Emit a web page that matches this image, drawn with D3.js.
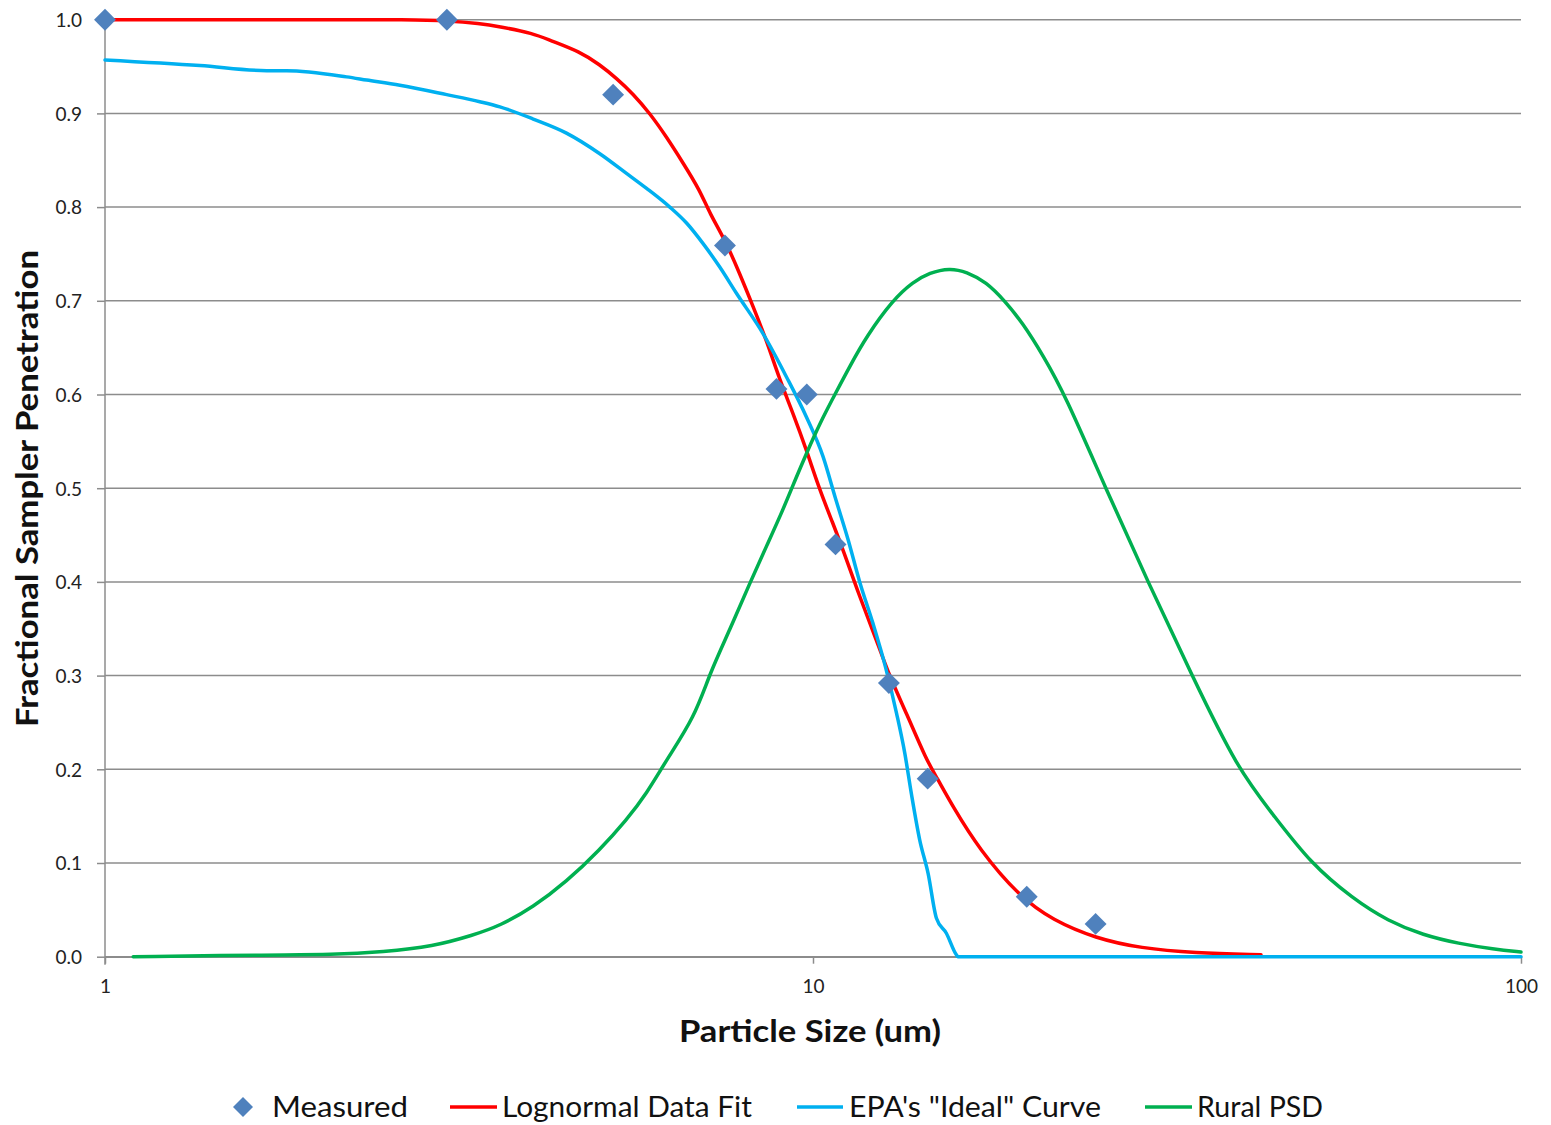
<!DOCTYPE html>
<html><head><meta charset="utf-8">
<script src="https://cdn.jsdelivr.net/npm/d3@7"></script>
<style>body{margin:0;background:#fff} svg{display:block;font-family:Lato,"Open Sans",sans-serif}</style>
</head><body><svg id="c" width="1551" height="1125"></svg>
<script>
// ---- data ----
const xTicks = [1, 10, 100];
const yTicks = [0, 0.1, 0.2, 0.3, 0.4, 0.5, 0.6, 0.7, 0.8, 0.9, 1.0];
const xTitle = "Particle Size (um)";
const yTitle = "Fractional Sampler Penetration";
const seriesNames = ["Measured", "Lognormal Data Fit", "EPA's \"Ideal\" Curve", "Rural PSD"];

const measuredX = [1, 3.04, 5.22, 7.51, 8.88, 9.80, 10.76, 12.80, 14.52, 20.04, 25.07];
const measuredY = [1.0, 1.0, 0.920, 0.759, 0.606, 0.600, 0.440, 0.292, 0.190, 0.064, 0.035];

const fitX = [1, 1.885, 2.741, 3.04, 3.383, 3.612, 4.025, 4.249, 4.684, 4.999, 5.278, 5.569, 5.883, 6.209, 6.555, 6.921, 7.149, 7.512, 7.88, 8.229, 8.595, 8.975, 9.372, 9.788, 10.22, 10.67, 11.03, 11.64, 12.29, 12.83, 13.55, 14.46, 14.94, 15.76, 17.19, 19.58, 21.80, 25.07, 29.05, 34.51, 42.93];
const fitY = [1, 1, 1, 0.999, 0.996, 0.9925, 0.9855, 0.978, 0.966, 0.952, 0.9375, 0.921, 0.900, 0.875, 0.847, 0.818, 0.793, 0.765, 0.729, 0.694, 0.658, 0.6155, 0.580, 0.541, 0.498, 0.4625, 0.434, 0.384, 0.338, 0.299, 0.260, 0.210, 0.192, 0.160, 0.114, 0.064, 0.039, 0.0196, 0.009, 0.004, 0.002];

const epaX = [1, 1.362, 1.692, 1.805, 2.194, 2.342, 2.609, 3.038, 3.383, 3.612, 4.025, 4.485, 4.999, 5.452, 5.820, 6.277, 6.628, 6.995, 7.384, 7.796, 8.50, 9.17, 9.788, 10.33, 10.76, 11.21, 11.64, 12.15, 12.67, 13.12, 13.48, 13.77, 14.15, 14.54, 14.94, 15.43, 15.94, 16.02, 100];
const epaY = [0.957, 0.951, 0.9456, 0.9456, 0.939, 0.9356, 0.930, 0.920, 0.9125, 0.907, 0.894, 0.879, 0.857, 0.836, 0.820, 0.800, 0.783, 0.761, 0.736, 0.708, 0.665, 0.619, 0.576, 0.534, 0.489, 0.445, 0.400, 0.356, 0.308, 0.260, 0.217, 0.174, 0.1245, 0.089, 0.041, 0.025, 0.002, 0, 0];

const psdX = [1.096, 1.692, 2.101, 2.471, 2.908, 3.311, 3.612, 4.025, 4.485, 4.999, 5.452, 5.820, 6.209, 6.807, 7.149, 7.630, 8.140, 8.595, 9.072, 9.474, 9.788, 10.22, 10.79, 11.27, 11.90, 12.97, 13.84, 14.61, 15.60, 16.47, 17.57, 18.65, 19.79, 21.12, 22.69, 25.90, 29.72, 34.31, 39.78, 44.94, 50.41, 57.84, 64.90, 72.80, 81.65, 91.55, 100];
const psdY = [0.0, 0.002, 0.002, 0.005, 0.011, 0.023, 0.033, 0.053, 0.080, 0.114, 0.146, 0.174, 0.210, 0.256, 0.3025, 0.349, 0.3985, 0.438, 0.477, 0.512, 0.537, 0.569, 0.603, 0.630, 0.662, 0.701, 0.720, 0.730, 0.735, 0.731, 0.720, 0.700, 0.676, 0.642, 0.600, 0.500, 0.400, 0.300, 0.200, 0.149, 0.100, 0.062, 0.038, 0.023, 0.014, 0.008, 0.005];

const colors = {measured: "#4f81bd", fit: "#ff0000", epa: "#00b0f0", psd: "#00b050"};

// ---- chart ----
const svg = d3.select("#c");
const L = 105, R = 1521, T = 19.7, B = 956.7;
const x = d3.scaleLog().domain([1, 100]).range([L, R]);
const y = d3.scaleLinear().domain([0, 1]).range([B, T]);
const gridColor = "#8c8c8c";

// gridlines
svg.append("g").selectAll("line").data(yTicks).join("line")
  .attr("x1", L).attr("x2", R).attr("y1", d => y(d)).attr("y2", d => y(d))
  .attr("stroke", gridColor).attr("stroke-width", 1.5);

// y axis
const yAxis = svg.append("g").attr("transform", `translate(${L},0)`)
  .call(d3.axisLeft(y).tickValues(yTicks).tickFormat(d3.format(".1f")).tickSize(8).tickSizeOuter(0).tickPadding(15));
yAxis.select(".domain").attr("stroke", gridColor).attr("stroke-width", 1.5).attr("d", `M0,${T}V${B + 8}`);
yAxis.selectAll(".tick line").attr("stroke", gridColor).attr("stroke-width", 1.5);
yAxis.selectAll("text").attr("font-family", "Lato").attr("font-size", 19).attr("fill", "#222").attr("dy", "0.36em");

// x axis
const xAxis = svg.append("g").attr("transform", `translate(0,${B})`)
  .call(d3.axisBottom(x).tickValues(xTicks).tickFormat(d3.format("d")).tickSize(7).tickSizeOuter(0).tickPadding(16));
xAxis.select(".domain").attr("stroke", gridColor).attr("stroke-width", 1.5);
xAxis.selectAll(".tick line").attr("stroke", gridColor).attr("stroke-width", 1.5);
xAxis.selectAll("text").attr("font-family", "Lato").attr("font-size", 19).attr("fill", "#222");

// lines
function drawLine(xs, ys, color, curve) {
  const pts = xs.map((v, i) => [v, ys[i]]);
  svg.append("path").datum(pts)
    .attr("fill", "none").attr("stroke", color).attr("stroke-width", 3.5)
    .attr("stroke-linejoin", "round").attr("stroke-linecap", "round")
    .attr("d", d3.line().x(d => x(d[0])).y(d => y(d[1])).curve(curve));
}
drawLine(fitX, fitY, colors.fit, d3.curveBasis);
drawLine(epaX, epaY, colors.epa, d3.curveMonotoneX);
drawLine(psdX, psdY, colors.psd, d3.curveBasis);

// measured diamonds
const diamond = d3.symbol().type(d3.symbolSquare).size(240);
svg.append("g").selectAll("path").data(measuredX.map((v, i) => [v, measuredY[i]])).join("path")
  .attr("d", diamond)
  .attr("transform", d => `translate(${x(d[0])},${y(d[1])}) rotate(45)`)
  .attr("fill", colors.measured);

// axis titles
svg.append("text").attr("x", 810).attr("y", 1042)
  .attr("text-anchor", "middle").attr("font-family", "Lato").attr("font-weight", "bold")
  .attr("font-size", 30).attr("fill", "#111").attr("textLength", 262).attr("lengthAdjust", "spacingAndGlyphs")
  .text(xTitle);
svg.append("text").attr("transform", "translate(38,488.5) rotate(-90)")
  .attr("text-anchor", "middle").attr("font-family", "Lato").attr("font-weight", "bold")
  .attr("font-size", 31).attr("fill", "#111").attr("textLength", 477).attr("lengthAdjust", "spacingAndGlyphs")
  .text(yTitle);

// legend
const ly = 1107;
const leg = svg.append("g").attr("font-family", "Lato").attr("font-size", 29).attr("fill", "#111");
leg.append("path").attr("d", d3.symbol().type(d3.symbolSquare).size(200))
  .attr("transform", `translate(243,${ly}) rotate(45)`).attr("fill", colors.measured);
const legendItems = [
  {name: seriesNames[0], line: null, tx: 272, tw: 136},
  {name: seriesNames[1], line: [450, 497, colors.fit], tx: 502, tw: 250},
  {name: seriesNames[2], line: [797, 843, colors.epa], tx: 849, tw: 252},
  {name: seriesNames[3], line: [1145, 1192, colors.psd], tx: 1197, tw: 126}
];
legendItems.forEach(it => {
  if (it.line) leg.append("line").attr("x1", it.line[0]).attr("x2", it.line[1])
    .attr("y1", ly).attr("y2", ly).attr("stroke", it.line[2]).attr("stroke-width", 3.5);
  leg.append("text").attr("x", it.tx).attr("y", ly + 10)
    .attr("textLength", it.tw).attr("lengthAdjust", "spacingAndGlyphs").text(it.name);
});
</script>
</body></html>
